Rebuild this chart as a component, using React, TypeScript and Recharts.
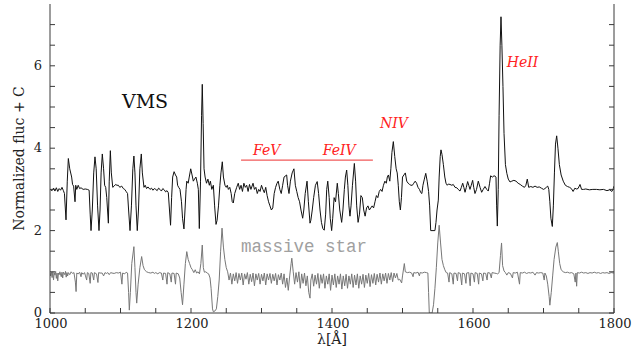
import React from "react";
import {
  LineChart,
  Line,
  XAxis,
  YAxis,
  ReferenceLine,
  ReferenceDot,
  Label,
} from "recharts";

// page has an 8px body margin by default, drop it so the chart sits at 0,0
if (typeof document !== "undefined") document.body.style.margin = "0";

// ─── Data (wavelength Å, normalized flux + offset) ───────────────────────────

const vmsSpectrum: [number, number][] = [
  [1000, 3.0], [1003, 2.97], [1005, 3.03], [1007, 2.96], [1009, 3.04], [1011, 2.95],
  [1013, 3.02], [1015, 2.98], [1017, 3.05], [1019, 2.97], [1020.5, 2.9], [1022.7, 2.26],
  [1024.5, 3.2], [1026, 3.75], [1028, 3.5], [1030.7, 3.3], [1032, 3.12], [1033.5, 3.08],
  [1035.5, 2.7], [1036.5, 3.1], [1038, 3.0], [1040, 3.1], [1042, 3.02], [1044, 3.04],
  [1047, 3.0], [1050, 3.01], [1053, 3.0], [1055.5, 2.98], [1057, 2.4], [1058.2, 2.0],
  [1060, 2.5], [1062, 3.4], [1063.8, 3.79], [1065.5, 3.5], [1067.5, 2.6], [1069.5, 2.0],
  [1071, 2.5], [1072.5, 3.4], [1074.2, 3.86], [1076, 3.5], [1077.5, 3.1], [1079, 3.05],
  [1080.5, 2.8], [1082.8, 2.18], [1084, 3.2], [1085.6, 3.94], [1087, 3.4], [1089, 3.05],
  [1091, 3.08], [1093, 3.12], [1095, 3.1], [1097, 3.1], [1099, 3.05], [1101.7, 3.08],
  [1104, 3.02], [1106, 3.0], [1108, 2.95], [1110, 2.9], [1111.5, 2.5], [1113.5, 2.0],
  [1115.5, 2.6], [1117.5, 3.5], [1119, 3.81], [1120.5, 3.4], [1122, 2.6], [1123.8, 2.0],
  [1125.5, 2.5], [1127.5, 3.5], [1129.5, 3.86], [1131, 3.4], [1133.3, 3.05], [1135, 3.1],
  [1137, 3.02], [1139, 3.06], [1141.8, 3.0], [1144, 3.03], [1146, 2.98], [1148, 3.02],
  [1150, 3.0], [1152, 2.97], [1154, 3.03], [1156, 3.0], [1158, 2.96], [1160, 3.02],
  [1162, 2.99], [1164, 2.94], [1166, 2.97], [1167.8, 2.92], [1169.5, 2.5], [1171, 2.13],
  [1172.5, 2.8], [1174, 3.3], [1176, 3.43], [1178, 3.35], [1179.7, 3.3], [1181, 3.1],
  [1182.5, 3.05], [1184.4, 3.0], [1186.5, 2.7], [1188, 2.3], [1190, 2.04], [1191.5, 2.5],
  [1193, 3.0], [1194, 3.2], [1196, 3.15], [1197.5, 3.3], [1199.6, 3.5], [1201.5, 3.35],
  [1203.3, 3.2], [1205, 3.25], [1207, 3.3], [1209, 3.15], [1210.4, 3.0], [1211.8, 2.05],
  [1213.5, 3.2], [1215, 4.8], [1216, 5.55], [1217.2, 4.6], [1218.5, 3.5], [1220, 3.3],
  [1222, 3.15], [1224, 3.25], [1226, 3.1], [1227.5, 3.2], [1229.5, 3.0], [1231.7, 3.1],
  [1233.5, 2.6], [1235.5, 2.15], [1237, 2.25], [1239, 2.6], [1241, 3.1], [1242.5, 3.4],
  [1244.4, 3.67], [1246, 3.3], [1248.2, 3.1], [1250, 3.05], [1251.5, 3.1], [1253, 3.0],
  [1255, 3.05], [1257, 2.9], [1258.5, 2.7], [1260, 2.67], [1262, 2.9], [1264.8, 3.05],
  [1267, 3.15], [1269, 3.0], [1271, 3.1], [1273, 2.95], [1275, 3.15], [1277, 3.05],
  [1279, 3.1], [1281, 2.95], [1283, 3.12], [1285, 3.0], [1288, 3.15], [1290, 3.0],
  [1292, 3.05], [1294, 2.9], [1296, 3.0], [1298, 2.95], [1300, 3.1], [1302, 3.0],
  [1304, 2.92], [1306, 3.05], [1308, 2.85], [1310, 2.7], [1312, 2.6], [1314, 2.5],
  [1316, 2.55], [1318, 2.9], [1320, 3.05], [1322, 3.15], [1323.7, 3.2], [1326, 3.0],
  [1328, 2.9], [1330, 3.1], [1332, 3.3], [1335.7, 3.35], [1337, 3.1], [1339, 2.9],
  [1341, 3.2], [1343.5, 3.4], [1346, 3.5], [1348, 3.1], [1350, 2.95], [1352, 2.8],
  [1354, 2.7], [1356, 2.5], [1358.4, 2.3], [1360, 2.5], [1362, 2.9], [1364.6, 3.2],
  [1366.5, 2.7], [1368.8, 2.18], [1370, 2.25], [1372, 2.5], [1374, 2.8], [1376.5, 3.1],
  [1379, 3.19], [1381, 2.9], [1383, 2.5], [1385, 2.2], [1387, 2.05], [1389, 2.01],
  [1391, 2.4], [1392.5, 3.0], [1394, 3.2], [1396, 2.8], [1397.5, 2.3], [1399.5, 2.0],
  [1401, 2.3], [1403, 2.8], [1405, 2.7], [1407.5, 3.15], [1409, 2.9], [1411, 2.5],
  [1413.7, 2.2], [1415.5, 2.5], [1417.5, 3.0], [1419, 3.3], [1420.8, 3.47], [1422.5, 3.1],
  [1424, 2.6], [1425.5, 2.35], [1427, 2.6], [1429, 3.1], [1431.7, 3.63], [1433.5, 3.2],
  [1435, 2.6], [1437, 2.2], [1439, 2.4], [1441, 2.85], [1443, 2.8], [1445, 2.5],
  [1447, 2.35], [1449, 2.55], [1451, 2.6], [1453, 2.5], [1455, 2.55], [1457, 2.6],
  [1459, 2.55], [1461, 2.7], [1463, 2.85], [1465, 2.8], [1467, 2.95], [1469, 3.0],
  [1471, 2.95], [1473, 3.1], [1475, 3.2], [1477, 3.15], [1478.5, 3.3], [1480, 3.35],
  [1482, 3.2], [1483.5, 3.5], [1485, 3.9], [1487, 4.16], [1489, 3.8], [1491, 3.5],
  [1492.5, 3.4], [1494, 3.1], [1495.5, 2.7], [1497, 2.5], [1498.5, 2.8], [1500, 3.3],
  [1502, 3.35], [1504, 3.4], [1506, 3.2], [1508, 3.15], [1510, 3.12], [1512, 3.1],
  [1514, 3.1], [1516, 3.15], [1518, 3.2], [1520, 3.15], [1522, 3.05], [1524, 3.0],
  [1526, 2.92], [1527.5, 2.9], [1529, 3.1], [1531, 3.25], [1533, 3.39], [1535, 3.2],
  [1537, 2.95], [1538.5, 2.6], [1540, 2.0], [1546, 2.0], [1547.5, 2.2], [1549, 2.5],
  [1550.8, 2.74], [1552, 3.3], [1553.5, 3.8], [1554.6, 3.96], [1556, 3.85], [1558, 3.6],
  [1560, 3.3], [1561.7, 3.15], [1563.5, 3.1], [1565, 3.13], [1567.4, 3.12], [1570, 3.1],
  [1572, 3.12], [1574.5, 3.05], [1577, 3.04], [1579, 3.0], [1581.6, 2.96], [1583.5, 3.05],
  [1585.4, 3.15], [1587, 3.05], [1588.7, 2.93], [1590.5, 3.05], [1592.4, 3.19], [1594, 3.1],
  [1595.7, 3.0], [1597.5, 3.1], [1599.5, 3.22], [1601, 3.05], [1602.8, 2.9], [1605, 3.0],
  [1607.5, 3.2], [1610, 3.05], [1612.3, 2.93], [1614.5, 3.0], [1617, 3.07], [1619.5, 3.0],
  [1621.7, 2.96], [1623.5, 3.15], [1625, 3.33], [1627.5, 3.3], [1629.8, 3.33], [1631.5, 3.32],
  [1632.6, 3.3], [1633.5, 2.6], [1634.5, 2.11], [1635.8, 3.0], [1637, 4.8], [1638.5, 6.5],
  [1639.7, 7.19], [1641, 6.5], [1642.5, 5.5], [1644, 4.36], [1646, 3.6], [1648, 3.39],
  [1650, 3.25], [1652.5, 3.18], [1655, 3.2], [1658, 3.22], [1661, 3.2], [1664, 3.15],
  [1667, 3.12], [1670, 3.08], [1673, 3.05], [1675, 3.1], [1677, 3.25], [1679, 3.05],
  [1682, 3.07], [1685, 3.05], [1688, 3.08], [1691, 3.05], [1694, 3.06], [1697, 3.03],
  [1700, 3.0], [1702, 3.02], [1704, 3.05], [1706, 3.08], [1707.5, 3.0], [1709, 2.7],
  [1710.5, 2.3], [1712.5, 2.1], [1714, 2.6], [1715.5, 3.4], [1717, 4.1], [1718.7, 4.3],
  [1720.5, 4.0], [1722.5, 3.6], [1725, 3.35], [1728, 3.2], [1731, 3.1], [1734, 3.07],
  [1737, 3.05], [1739.5, 3.02], [1742, 2.95], [1744.5, 3.03], [1746.5, 3.01], [1749, 3.02],
  [1751.8, 3.12], [1754, 3.0], [1757, 3.0], [1760, 3.01], [1765, 2.99], [1770, 3.0],
  [1775, 3.0], [1780, 2.99], [1785, 3.0], [1790, 2.97], [1794, 2.99], [1797, 2.95],
  [1799, 3.02], [1800, 3.08],
];

const massiveStarSpectrum: [number, number][] = [
  [1000, 0.98], [1001, 0.9], [1002, 0.99], [1003, 0.86], [1004, 1.0], [1005, 0.8],
  [1006, 0.98], [1007, 0.92], [1008, 1.01], [1009, 0.84], [1010, 0.97], [1011, 0.78],
  [1012, 0.97], [1013, 0.93], [1014, 1.0], [1016, 0.88], [1017, 0.99], [1018, 0.85],
  [1019, 0.99], [1021, 0.93], [1022, 1.01], [1023, 0.87], [1024, 0.98], [1025, 0.9],
  [1026, 0.98], [1028, 0.93], [1030, 1.0], [1032, 0.96], [1034, 0.98], [1036, 0.75],
  [1037, 0.52], [1038, 0.97], [1040, 0.95], [1042, 0.99], [1044, 0.88], [1045, 0.98],
  [1047, 0.94], [1049, 0.98], [1050, 0.92], [1052, 0.8], [1053, 0.98], [1055, 0.96],
  [1057, 0.72], [1058, 0.98], [1060, 0.97], [1062, 0.8], [1063, 0.98], [1066, 0.95],
  [1068, 0.74], [1069, 0.98], [1071, 0.97], [1074, 0.97], [1076, 0.9], [1078, 0.98],
  [1080, 0.96], [1082, 0.98], [1084, 0.93], [1086, 0.98], [1088, 0.97], [1091, 0.96],
  [1094, 0.98], [1097, 0.97], [1100, 0.99], [1102, 0.7], [1103, 0.97], [1106, 0.95],
  [1108, 0.99], [1110, 0.97], [1111.5, 0.5], [1112.5, 0.07], [1114, 0.5], [1116, 1.2],
  [1119, 1.61], [1120.5, 1.1], [1122, 0.5], [1123, 0.24], [1125, 0.7], [1127.5, 1.1],
  [1130, 1.37], [1132, 1.15], [1134, 1.05], [1137, 1.0], [1140, 0.98], [1143, 0.97],
  [1146, 0.99], [1148, 0.96], [1150, 0.98], [1153, 0.95], [1155, 0.98], [1158, 0.97],
  [1160, 0.8], [1161, 0.97], [1164, 0.96], [1166, 0.7], [1167, 0.98], [1170, 0.95],
  [1172, 0.75], [1173, 0.97], [1176, 0.96], [1178, 0.7], [1179, 0.97], [1182, 0.95],
  [1184, 0.85], [1186, 0.5], [1188, 0.2], [1190, 0.7], [1192, 1.2], [1194, 1.49],
  [1196, 1.3], [1198, 1.2], [1200, 1.1], [1202, 1.05], [1204, 0.98], [1206, 1.05],
  [1208, 0.97], [1210, 1.0], [1212, 0.95], [1214, 1.2], [1216, 1.65], [1217.5, 1.1],
  [1219, 0.99], [1221, 1.0], [1223, 0.97], [1225, 0.95], [1227, 0.85], [1228.5, 0.6],
  [1230.5, 0.1], [1231.7, 0.03], [1234, 0.05], [1236, 0.1], [1238, 0.4], [1240, 0.8],
  [1242, 1.5], [1244, 2.06], [1246, 1.6], [1248, 1.3], [1250, 1.1], [1252, 1.0],
  [1254, 0.8], [1256, 0.97], [1258, 0.7], [1260, 0.95], [1262, 0.78], [1264, 0.98],
  [1266, 0.72], [1268, 0.96], [1270, 0.8], [1272, 0.97], [1274, 0.68], [1276, 0.95],
  [1278, 0.82], [1280, 0.98], [1282, 0.7], [1284, 0.94], [1286, 0.76], [1288, 0.97],
  [1290, 0.66], [1292, 0.95], [1294, 0.8], [1296, 0.96], [1298, 0.7], [1300, 0.94],
  [1302, 0.78], [1304, 0.97], [1306, 0.68], [1308, 0.95], [1310, 0.8], [1312, 0.96],
  [1314, 0.72], [1316, 0.94], [1318, 0.78], [1320, 0.96], [1322, 0.68], [1324, 0.93],
  [1326, 0.8], [1328, 0.97], [1330, 0.7], [1332, 0.95], [1334, 0.62], [1336, 0.85],
  [1338, 0.55], [1340, 0.9], [1342, 1.2], [1343, 1.33], [1345, 1.0], [1347, 0.7],
  [1349, 0.98], [1351, 0.75], [1353, 1.0], [1355, 0.6], [1357, 0.95], [1359, 0.72],
  [1361, 0.97], [1363, 0.66], [1365, 0.9], [1367, 0.5], [1368.8, 0.36], [1370, 0.8],
  [1372, 0.95], [1374, 0.65], [1376, 0.92], [1378, 0.7], [1380, 0.96], [1382, 0.6],
  [1384, 0.93], [1386, 0.72], [1388, 0.95], [1390, 0.6], [1392, 0.9], [1394, 0.7],
  [1396, 0.95], [1398, 0.55], [1400, 0.92], [1402, 0.68], [1404, 0.95], [1406, 0.62],
  [1408, 0.9], [1410, 0.7], [1412, 0.95], [1414, 0.58], [1416, 0.9], [1418, 0.66],
  [1420, 0.94], [1422, 0.6], [1424, 0.9], [1426, 0.7], [1428, 0.95], [1430, 0.62],
  [1432, 0.92], [1434, 0.68], [1436, 0.95], [1438, 0.6], [1440, 0.9], [1442, 0.7],
  [1444, 0.94], [1446, 0.62], [1448, 0.92], [1450, 0.72], [1452, 0.96], [1454, 0.64],
  [1456, 0.93], [1458, 0.72], [1460, 0.96], [1462, 0.68], [1464, 0.94], [1466, 0.75],
  [1468, 0.97], [1470, 0.7], [1472, 0.95], [1474, 0.78], [1476, 0.97], [1478, 0.72],
  [1480, 0.96], [1482, 0.8], [1484, 0.98], [1486, 0.76], [1488, 0.97], [1490, 0.85],
  [1492, 0.96], [1494, 0.8], [1496, 0.82], [1498.8, 0.73], [1500, 0.9], [1502.6, 1.2],
  [1504, 1.0], [1507, 0.98], [1510, 0.99], [1513, 0.97], [1515, 0.88], [1516, 0.98],
  [1519, 0.97], [1522, 0.99], [1524, 0.9], [1525, 0.98], [1528, 0.97], [1531, 0.99],
  [1534, 0.98], [1536, 0.97], [1537, 0.5], [1538, 0.0], [1542, 0.0], [1544, 0.2],
  [1546, 0.6], [1548, 1.1], [1550, 1.7], [1552, 2.13], [1554, 1.7], [1556, 1.3],
  [1558, 1.15], [1560, 1.05], [1562, 0.98], [1564, 0.97], [1566, 0.75], [1567, 0.98],
  [1570, 0.95], [1572, 0.7], [1573, 0.97], [1576, 0.96], [1578, 0.78], [1579, 0.98],
  [1582, 0.96], [1584, 0.68], [1585, 0.97], [1588, 0.95], [1590, 0.72], [1591, 0.97],
  [1594, 0.98], [1596, 0.66], [1597, 0.97], [1600, 0.95], [1602, 0.75], [1603, 0.98],
  [1606, 0.96], [1608, 0.7], [1609, 0.97], [1612, 0.95], [1614, 0.78], [1615, 0.97],
  [1618, 0.96], [1620, 0.8], [1621, 0.98], [1624, 0.97], [1626, 0.85], [1627, 0.98],
  [1630, 0.97], [1633, 0.96], [1635, 0.95], [1637, 0.98], [1639, 1.4], [1640.5, 1.7],
  [1642, 1.15], [1644, 1.02], [1646, 0.98], [1648, 0.92], [1650, 0.98], [1653, 0.96],
  [1656, 0.85], [1657, 0.98], [1660, 0.97], [1663, 0.99], [1666, 0.7], [1667, 0.98],
  [1670, 0.97], [1673, 0.99], [1676, 0.96], [1679, 0.98], [1682, 0.97], [1685, 0.99],
  [1688, 0.92], [1690, 0.98], [1693, 0.97], [1696, 0.98], [1699, 0.97], [1701, 0.8],
  [1702, 0.97], [1704, 0.9], [1706, 0.7], [1708, 0.4], [1709, 0.19], [1711, 0.5],
  [1713, 0.9], [1715, 1.3], [1717.5, 1.6], [1719.6, 1.71], [1721, 1.5], [1723, 1.2],
  [1725, 1.05], [1728, 1.0], [1731, 0.98], [1734, 0.99], [1737, 0.97], [1740, 0.98],
  [1743, 0.95], [1745, 0.75], [1746, 0.97], [1747, 0.65], [1748, 0.98], [1751, 0.97],
  [1754, 0.99], [1757, 0.97], [1760, 0.98], [1763, 0.96], [1766, 0.98], [1769, 0.97],
  [1772, 0.99], [1775, 0.97], [1778, 0.98], [1781, 0.96], [1784, 0.98], [1787, 0.97],
  [1790, 0.98], [1793, 0.96], [1796, 0.98], [1800, 0.97],
];

const xTicks = [
  1000, 1050, 1100, 1150, 1200, 1250, 1300, 1350, 1400, 1450, 1500, 1550, 1600, 1650,
  1700, 1750, 1800,
];
const xLabelTicks = [1000, 1200, 1400, 1600, 1800];
const yTicks = [0, 0.5, 1, 1.5, 2, 2.5, 3, 3.5, 4, 4.5, 5, 5.5, 6, 6.5, 7];
const yLabelTicks = [0, 2, 4, 6];

// Fe forest marker and the line ids
const feBand = { from: 1271, to: 1458, level: 3.71 };
const lineIds = [
  { text: "FeV", w: 1288, f: 3.83 },
  { text: "FeIV", w: 1387, f: 3.83 },
  { text: "NIV", w: 1468, f: 4.49 },
  { text: "HeII", w: 1648, f: 5.97 },
];
const starNames = [
  { text: "VMS", w: 1102, f: 4.98, kind: "vms" },
  { text: "massive star", w: 1271, f: 1.48, kind: "star" },
];

const vmsData = vmsSpectrum.map(([w, f]) => ({ w, f }));
const starData = massiveStarSpectrum.map(([w, f]) => ({ w, f }));

// ─── Styling ─────────────────────────────────────────────────────────────────
const AXIS = "#3a3a3a";
const SERIF = "'DejaVu Serif', 'Liberation Serif', serif";
const RED = "#ff2222";
const TICK_LEN = 5;

function BottomTick(props: any) {
  const { x, y, payload } = props;
  const v = payload.value;
  return (
    <g>
      <line x1={x} x2={x} y1={y} y2={y - TICK_LEN} stroke={AXIS} />
      {xLabelTicks.includes(v) && (
        <text x={x + 1} y={y + 15} textAnchor="middle" fontFamily={SERIF} fontSize={13} fill="#222">
          {v}
        </text>
      )}
    </g>
  );
}

function TopTick(props: any) {
  const { x, y } = props;
  return <line x1={x} x2={x} y1={y} y2={y + TICK_LEN} stroke={AXIS} />;
}

function LeftTick(props: any) {
  const { x, y, payload } = props;
  const v = payload.value;
  return (
    <g>
      <line x1={x} x2={x + TICK_LEN} y1={y} y2={y} stroke={AXIS} />
      {yLabelTicks.includes(v) && (
        <text x={x - 8} y={y + 4} textAnchor="end" fontFamily={SERIF} fontSize={13} fill="#222">
          {v}
        </text>
      )}
    </g>
  );
}

function RightTick(props: any) {
  const { x, y } = props;
  return <line x1={x} x2={x - TICK_LEN} y1={y} y2={y} stroke={AXIS} />;
}

export default function App() {
  return (
    <LineChart
      width={644}
      height={350}
      margin={{ top: 4, right: 0, bottom: 0, left: 0 }}
      style={{ background: "#fff" }}
    >
      <XAxis
        dataKey="w"
        type="number"
        domain={[1000, 1800]}
        ticks={xTicks}
        interval={0}
        allowDataOverflow
        height={37}
        stroke={AXIS}
        tickLine={false}
        tickSize={0}
        tickMargin={0}
        tick={<BottomTick />}
      >
        <Label
          value="λ[Å]"
          position="insideBottom"
          offset={6}
          style={{ fontFamily: SERIF, fontSize: 14, fill: "#222" }}
        />
      </XAxis>
      <XAxis
        xAxisId="top"
        dataKey="w"
        type="number"
        orientation="top"
        domain={[1000, 1800]}
        ticks={xTicks}
        interval={0}
        allowDataOverflow
        height={0}
        stroke={AXIS}
        tickLine={false}
        tickSize={0}
        tickMargin={0}
        tick={<TopTick />}
      />
      <YAxis
        type="number"
        domain={[0, 7.5]}
        ticks={yTicks}
        interval={0}
        allowDataOverflow
        width={50}
        stroke={AXIS}
        tickLine={false}
        tickSize={0}
        tickMargin={0}
        tick={<LeftTick />}
      >
        <Label
          content={(p: any) => {
            const vb = p.viewBox || { x: 0, y: 4, width: 50, height: 309 };
            const cx = 19;
            const cy = vb.y + vb.height / 2;
            return (
              <text
                x={cx}
                y={cy}
                transform={`rotate(-90 ${cx} ${cy})`}
                textAnchor="middle"
                dominantBaseline="central"
                fontFamily={SERIF}
                fontSize={14}
                fill="#222"
              >
                Normalized fluc + C
              </text>
            );
          }}
        />
      </YAxis>
      <YAxis
        yAxisId="right"
        orientation="right"
        type="number"
        domain={[0, 7.5]}
        ticks={yTicks}
        interval={0}
        allowDataOverflow
        width={30}
        stroke={AXIS}
        tickLine={false}
        tickSize={0}
        tickMargin={0}
        tick={<RightTick />}
      />

      <Line
        data={starData}
        dataKey="f"
        type="linear"
        stroke="#777"
        strokeWidth={1}
        dot={false}
        isAnimationActive={false}
      />
      <Line
        data={vmsData}
        dataKey="f"
        type="linear"
        stroke="#111"
        strokeWidth={1}
        dot={false}
        isAnimationActive={false}
      />

      <ReferenceLine
        segment={[
          { x: feBand.from, y: feBand.level },
          { x: feBand.to, y: feBand.level },
        ]}
        stroke="#f05a5a"
        strokeWidth={1.3}
      />

      {lineIds.map((n) => (
        <ReferenceDot
          key={n.text}
          x={n.w}
          y={n.f}
          r={0}
          shape={(p: any) => (
            <text
              x={p.cx}
              y={p.cy}
              fontFamily={SERIF}
              fontStyle="italic"
              fontSize={14}
              fill={RED}
            >
              {n.text}
            </text>
          )}
        />
      ))}

      {starNames.map((n) => (
        <ReferenceDot
          key={n.text}
          x={n.w}
          y={n.f}
          r={0}
          shape={(p: any) =>
            n.kind === "vms" ? (
              <text x={p.cx} y={p.cy} fontFamily={SERIF} fontSize={19} fill="#111">
                {n.text}
              </text>
            ) : (
              <text
                x={p.cx}
                y={p.cy}
                fontFamily="'Liberation Mono', 'DejaVu Sans Mono', monospace"
                fontSize={17.5}
                fill="#a0a0a0"
              >
                {n.text}
              </text>
            )
          }
        />
      ))}
    </LineChart>
  );
}
